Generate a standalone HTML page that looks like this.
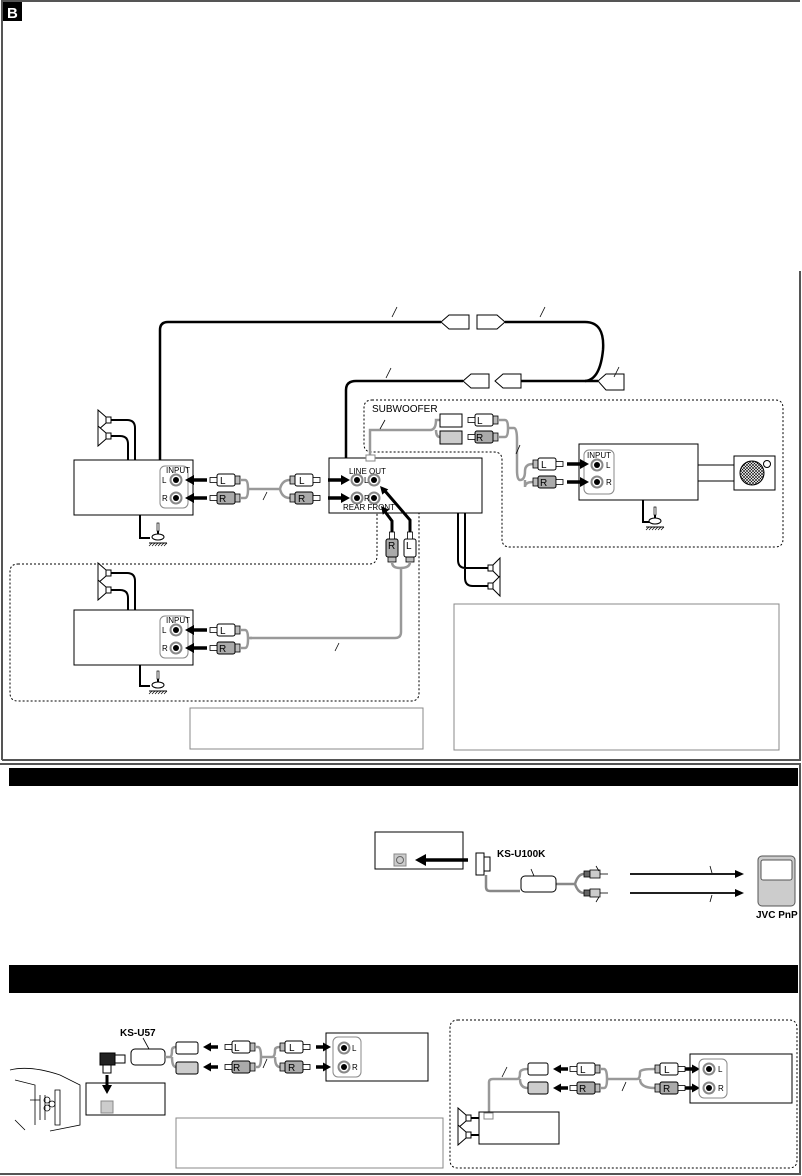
<!DOCTYPE html>
<html><head><meta charset="utf-8"><style>
html,body{margin:0;padding:0;background:#fff;}
svg{display:block;font-family:"Liberation Sans",sans-serif;}
.t{font-size:8px;fill:#000}
.lb{font-size:10px;fill:#000}
</style></head><body>
<svg width="802" height="1176" viewBox="0 0 802 1176" xmlns="http://www.w3.org/2000/svg">
<defs>
<g id="pr">
<rect x="0" y="-4" width="5" height="8" fill="#bbb" stroke="#000" stroke-width="0.8"/>
<rect x="5" y="-6" width="18" height="12" rx="2" stroke="#000" stroke-width="1"/>
<rect x="23" y="-2.5" width="7" height="5" fill="#fff" stroke="#000" stroke-width="0.8"/>
</g>
<g id="pl">
<rect x="-5" y="-4" width="5" height="8" fill="#bbb" stroke="#000" stroke-width="0.8"/>
<rect x="-23" y="-6" width="18" height="12" rx="2" stroke="#000" stroke-width="1"/>
<rect x="-30" y="-2.5" width="7" height="5" fill="#fff" stroke="#000" stroke-width="0.8"/>
</g>
<g id="jack"><circle r="5.5" fill="#fff" stroke="#888" stroke-width="2"/><circle r="3" fill="#000"/></g>
<g id="spkR"><rect x="0" y="-3" width="5" height="6" fill="#fff" stroke="#000"/><path d="M5,-3 L12,-10 L12,10 L5,3 Z" fill="#fff" stroke="#000"/></g>
<g id="spkL"><rect x="0" y="-3" width="5" height="6" fill="#fff" stroke="#000"/><path d="M0,-3 L-8,-10 L-8,10 L0,3 Z" fill="#fff" stroke="#000"/></g>
<g id="gnd"><path d="M0,0 l0,8" stroke="#000" stroke-width="2" fill="none"/><rect x="-1" y="-8" width="2" height="8" fill="#fff" stroke="#000" stroke-width="0.7"/><ellipse cx="0" cy="6" rx="6" ry="3" fill="#fff" stroke="#000"/><path d="M-9,12 h18" stroke="#000"/><path d="M-9,15 l3,-3 M-6,15 l3,-3 M-3,15 l3,-3 M0,15 l3,-3 M3,15 l3,-3 M6,15 l3,-3" stroke="#000" stroke-width="0.7"/></g>
<g id="aR"><path d="M-4,0 H-22" stroke="#000" stroke-width="3.5"/><path d="M0,0 L-9,-5 L-9,5 Z" fill="#000"/></g>
<g id="aS"><path d="M-4,0 H-15" stroke="#000" stroke-width="3.5"/><path d="M0,0 L-8,-4.5 L-8,4.5 Z" fill="#000"/></g>
</defs>

<!-- frames -->
<path d="M2,760 V1 H800" fill="none" stroke="#555" stroke-width="2"/>
<path d="M800,271 V760 H2" fill="none" stroke="#555" stroke-width="2"/>
<rect x="3" y="2" width="19" height="19" fill="#000"/>
<text x="7" y="18" font-size="15" font-weight="bold" fill="#fff">B</text>
<path d="M0,764 H800 V1174 H0" fill="none" stroke="#555" stroke-width="2"/>
<rect x="9" y="768" width="789" height="18" fill="#000"/>
<rect x="9" y="965" width="789" height="28" fill="#000"/>

<!-- long cables -->
<g fill="none" stroke="#000" stroke-width="2.5">
<path d="M160,460 V330 Q160,322 168,322 H441"/>
<path d="M505,322 H585 Q605,322 603,350 Q600,380 585,381"/>
<path d="M346,458 V390 Q346,381 356,381 H463"/>
<path d="M520,381 H598"/>
</g>
<g fill="#fff" stroke="#000" stroke-width="1">
<path d="M441,322 l8,-7 h20 v14 h-20 z"/>
<path d="M505,322 l-8,-7 h-20 v14 h20 z"/>
<path d="M463,381 l8,-7 h18 v14 h-18 z"/>
<path d="M495,381 l8,-7 h18 v14 h-18 z"/>
<path d="M598,381 l8,-7 h18 v16 h-18 z"/>
</g>
<g stroke="#000" stroke-width="0.8"><path d="M392,317 l5,-10 M540,317 l5,-10 M386,378 l5,-10 M614,377 l5,-10"/></g>

<!-- subwoofer dotted region -->
<path d="M372,400 H775 Q783,400 783,408 V539 Q783,547 775,547 H510 Q502,547 502,539 V460 Q502,452 494,452 H372 Q364,452 364,444 V408 Q364,400 372,400 Z" fill="none" stroke="#000" stroke-dasharray="2,2"/>
<text x="372" y="412" class="lb">SUBWOOFER</text>
<path d="M370,458 V430 H430 M430,430 Q436,430 436,420 H440 M436,430 Q436,437 440,437" fill="none" stroke="#999" stroke-width="2.5"/>
<path d="M385,420 l-5,9" stroke="#000" stroke-width="0.8"/>
<rect x="440" y="414" width="22" height="13" fill="#fff" stroke="#000"/>
<rect x="440" y="431" width="22" height="13" fill="#ccc" stroke="#000"/>
<use href="#pl" x="498" y="420" fill="#fff"/>
<use href="#pl" x="498" y="437" fill="#aaa"/>
<text x="477" y="424" class="lb">L</text><text x="476" y="441" class="lb">R</text>
<path d="M498,420 H505 Q508,420 508,428 Q508,437 505,437 H498 M508,428 H514 Q517,428 517,440 V470 Q517,480 520,480" fill="none" stroke="#999" stroke-width="2.5"/>
<path d="M520,445 l-4,9" stroke="#000" stroke-width="0.8"/>
<path d="M520,480 Q525,480 525,471 Q525,464 533,464 M525,480 Q525,482 525,487 Q525,482 533,482" fill="none" stroke="#999" stroke-width="2.5"/>
<use href="#pr" x="533" y="464" fill="#fff"/><use href="#pr" x="533" y="482" fill="#aaa"/>
<text x="541" y="468" class="lb">L</text><text x="540" y="486" class="lb">R</text>
<rect x="579" y="444" width="119" height="56" fill="none" stroke="#000"/>
<rect x="584" y="450" width="30" height="44" rx="5" fill="#fff" stroke="#888"/>
<text x="587" y="458" class="t" font-size="7">INPUT</text>
<use href="#jack" x="597" y="465"/><use href="#jack" x="597" y="482"/>
<text x="606" y="468" class="t">L</text><text x="606" y="485" class="t">R</text>
<use href="#aR" x="589" y="464"/><use href="#aR" x="589" y="482"/>
<path d="M698,465 H734 M698,481 H734" stroke="#000"/>
<rect x="734" y="456" width="41" height="34" fill="#fff" stroke="#000"/>
<pattern id="hx" width="3" height="3" patternUnits="userSpaceOnUse"><path d="M0,0 L3,3 M3,0 L0,3" stroke="#000" stroke-width="0.6"/></pattern>
<circle cx="752" cy="473" r="12" fill="url(#hx)" stroke="#000"/>
<circle cx="767" cy="464" r="3.5" fill="#fff" stroke="#000"/>
<path d="M643,500 V522 H652" fill="none" stroke="#000" stroke-width="2"/>
<use href="#gnd" x="655" y="515"/>

<!-- rear dotted region -->
<path d="M18,564 H369 Q377,564 377,556 V496 Q377,488 385,488 H411 Q419,488 419,496 V693 Q419,701 411,701 H18 Q10,701 10,693 V572 Q10,564 18,564 Z" fill="none" stroke="#000" stroke-dasharray="2,2"/>

<!-- front amp -->
<use href="#spkL" x="106" y="420"/>
<use href="#spkL" x="106" y="436"/>
<path d="M111,420 H127 Q135,420 135,428 V460 M111,436 H120 Q128,436 128,444 V460" fill="none" stroke="#000" stroke-width="2"/>
<rect x="74" y="460" width="119" height="55" fill="#fff" stroke="#000"/>
<rect x="160" y="466" width="28" height="42" rx="5" fill="#fff" stroke="#888"/>
<text x="166" y="473" class="t" font-size="7">INPUT</text>
<use href="#jack" x="176" y="480"/><use href="#jack" x="176" y="498"/>
<text x="162" y="483" class="t" font-size="7">L</text><text x="162" y="501" class="t" font-size="7">R</text>
<use href="#aR" transform="translate(185,480) rotate(180)"/><use href="#aR" transform="translate(185,498) rotate(180)"/>
<use href="#pl" x="240" y="480" fill="#fff"/><use href="#pl" x="240" y="498" fill="#aaa"/>
<text x="220" y="484" class="lb">L</text><text x="219" y="502" class="lb">R</text>
<path d="M240,480 H245 Q248,480 248,489 Q248,498 245,498 H240 M248,489 H280 M280,489 Q282,480 290,480 M280,489 Q282,498 290,498" fill="none" stroke="#999" stroke-width="2.5"/>
<path d="M263,500 l4,-8" stroke="#000" stroke-width="0.8"/>
<use href="#pr" x="290" y="480" fill="#fff"/><use href="#pr" x="290" y="498" fill="#aaa"/>
<text x="299" y="484" class="lb">L</text><text x="298" y="502" class="lb">R</text>
<path d="M140,515 V538 H150" fill="none" stroke="#000" stroke-width="2"/>
<use href="#gnd" x="158" y="531"/>

<!-- center unit -->
<rect x="329" y="458" width="153" height="55" fill="#fff" stroke="#000"/>
<use href="#aR" x="350" y="480"/><use href="#aR" x="350" y="498"/>
<rect x="366" y="455" width="9" height="6" fill="#fff" stroke="#888"/>
<text x="349" y="474" class="t">LINE  OUT</text>
<use href="#jack" x="357" y="480"/><use href="#jack" x="374" y="480"/>
<use href="#jack" x="357" y="498"/><use href="#jack" x="374" y="498"/>
<text x="364" y="483" class="t" font-size="6">L</text><text x="364" y="501" class="t" font-size="6">R</text>
<text x="343" y="510" class="t" font-size="5.5">REAR  FRONT</text>
<path d="M410,532 V520 L385,491 M392,532 V521 L383,509" stroke="#000" stroke-width="3" fill="none"/>
<path d="M380,486 L388.3,489.4 L382.3,494.6 Z M381,506 L389.2,509.8 L382.8,514.8 Z" fill="#000"/>
<use href="#pr" x="392" y="562" transform="rotate(-90 392 562)" fill="#aaa"/>
<use href="#pr" x="410" y="562" transform="rotate(-90 410 562)" fill="#fff"/>
<text x="388" y="549" class="lb">R</text><text x="406" y="549" class="lb">L</text>
<path d="M392,562 Q392,568 400,568 Q410,568 410,562 M401,568 V632 Q401,638 395,638 H250" fill="none" stroke="#999" stroke-width="2.5"/>
<path d="M458,513 V560 Q458,568 466,568 H490 M465,513 V578 Q465,586 473,586 H490" fill="none" stroke="#000" stroke-width="2"/>
<use href="#spkR" x="488" y="568"/><use href="#spkR" x="488" y="586"/>

<!-- rear amp -->
<use href="#spkL" x="106" y="573"/>
<use href="#spkL" x="106" y="590"/>
<path d="M111,573 H127 Q135,573 135,581 V610 M111,590 H120 Q128,590 128,598 V610" fill="none" stroke="#000" stroke-width="2"/>
<rect x="74" y="610" width="119" height="55" fill="#fff" stroke="#000"/>
<rect x="160" y="616" width="28" height="42" rx="5" fill="#fff" stroke="#888"/>
<text x="166" y="623" class="t" font-size="7">INPUT</text>
<use href="#jack" x="176" y="630"/><use href="#jack" x="176" y="648"/>
<text x="162" y="633" class="t" font-size="7">L</text><text x="162" y="651" class="t" font-size="7">R</text>
<use href="#aR" transform="translate(185,630) rotate(180)"/><use href="#aR" transform="translate(185,648) rotate(180)"/>
<use href="#pl" x="240" y="630" fill="#fff"/><use href="#pl" x="240" y="648" fill="#aaa"/>
<text x="220" y="634" class="lb">L</text><text x="219" y="652" class="lb">R</text>
<path d="M240,630 H245 Q248,630 248,639 Q248,648 245,648 H240 M248,638 H252" fill="none" stroke="#999" stroke-width="2.5"/>
<path d="M335,651 l4,-8" stroke="#000" stroke-width="0.8"/>
<path d="M140,665 V686 H150" fill="none" stroke="#000" stroke-width="2"/>
<use href="#gnd" x="158" y="679"/>

<rect x="190" y="708" width="233" height="41" fill="none" stroke="#888"/>
<rect x="454" y="604" width="325" height="146" fill="none" stroke="#888"/>

<!-- section 2 -->
<rect x="375" y="832" width="88" height="37" fill="#fff" stroke="#000"/>
<rect x="394" y="854" width="12" height="12" fill="#ccc" stroke="#888"/><circle cx="400" cy="860" r="3.5" fill="none" stroke="#666"/>
<path d="M468,860 H425" stroke="#000" stroke-width="3.5"/><path d="M415,860 L426,854 L426,866 Z" fill="#000"/>
<rect x="476" y="853" width="8" height="22" fill="#fff" stroke="#000"/>
<rect x="484" y="857" width="6" height="14" fill="#fff" stroke="#000"/>
<text x="497" y="857" font-size="10" font-weight="bold">KS-U100K</text>
<path d="M486,875 V887 Q486,891 490,891 H520 M556,884 H575 M575,884 Q578,874 584,874 M575,884 Q578,893 584,893" fill="none" stroke="#888" stroke-width="2.5"/>
<rect x="521" y="876" width="35" height="16" rx="4" fill="#fff" stroke="#000"/>
<path d="M531,869 l3,7" stroke="#000" stroke-width="0.8"/>
<g stroke="#000" stroke-width="0.8">
<rect x="584" y="871" width="6" height="6" fill="#666"/><rect x="590" y="870" width="10" height="8" fill="#ccc"/><path d="M600,874 H608"/>
<rect x="584" y="890" width="6" height="6" fill="#666"/><rect x="590" y="889" width="10" height="8" fill="#ccc"/><path d="M600,893 H608"/>
<path d="M596,866 l3,5 M596,902 l3,-5 M710,866 l2,7 M710,902 l2,-7"/>
</g>
<path d="M630,874 H736 M630,893 H736" stroke="#000" stroke-width="1.8"/>
<path d="M744,874 L735,870 L735,878 Z M744,893 L735,889 L735,897 Z" fill="#000"/>
<rect x="758" y="856" width="37" height="50" rx="4" fill="#ccc" stroke="#555"/>
<rect x="761" y="860" width="31" height="20" rx="2" fill="#fff" stroke="#555"/>
<text x="756" y="918" font-size="10" font-weight="bold">JVC PnP</text>

<!-- section 3 left -->
<g fill="none" stroke="#000" stroke-width="0.8">
<path d="M10,1070 q20,-5 50,5 l20,10 v40 l-30,6 M15,1080 l20,5 v40 M30,1100 h10 M15,1120 l10,10 M40,1095 v25 M45,1095 v25"/>
<circle cx="47" cy="1100" r="3"/><circle cx="47" cy="1108" r="3"/><circle cx="52" cy="1104" r="3"/>
<path d="M55,1090 v35 h5 v-35 z"/>
</g>
<text x="120" y="1036" font-size="10" font-weight="bold">KS-U57</text>
<path d="M143,1038 l6,11" stroke="#000" stroke-width="0.8"/>
<rect x="100" y="1053" width="15" height="12" fill="#222" stroke="#000"/>
<rect x="103" y="1065" width="8" height="8" fill="#fff" stroke="#000"/>
<rect x="115" y="1055" width="10" height="8" fill="#fff" stroke="#000"/>
<rect x="131" y="1049" width="34" height="16" rx="4" fill="#fff" stroke="#000"/>
<path d="M107,1075 V1086" stroke="#000" stroke-width="3"/><path d="M107,1094 L102,1085 L112,1085 Z" fill="#000"/>
<rect x="86" y="1083" width="79" height="32" fill="none" stroke="#000"/>
<rect x="101" y="1101" width="12" height="12" fill="#ccc" stroke="#888"/>
<path d="M165,1057 H170 Q172,1057 172,1050 Q172,1047 176,1047 M172,1057 Q172,1067 176,1067" fill="none" stroke="#999" stroke-width="2.5"/>
<rect x="176" y="1042" width="22" height="12" rx="2" fill="#fff" stroke="#000"/>
<rect x="176" y="1062" width="22" height="12" rx="2" fill="#ccc" stroke="#000"/>
<use href="#aS" transform="translate(203,1047) rotate(180)"/><use href="#aS" transform="translate(203,1067) rotate(180)"/>
<use href="#pl" x="255" y="1047" fill="#fff"/>
<use href="#pl" x="255" y="1067" fill="#aaa"/>
<text x="234" y="1051" class="lb">L</text><text x="233" y="1071" class="lb">R</text>
<path d="M255,1047 H258 Q261,1047 261,1057 Q261,1067 258,1067 H255 M261,1057 H272 Q275,1057 275,1050 Q275,1047 280,1047 M275,1057 Q275,1067 280,1067" fill="none" stroke="#999" stroke-width="2.5"/>
<path d="M263,1068 l4,-9" stroke="#000" stroke-width="0.8"/>
<use href="#pr" x="280" y="1047" fill="#fff"/><use href="#pr" x="280" y="1067" fill="#aaa"/>
<text x="289" y="1051" class="lb">L</text><text x="288" y="1071" class="lb">R</text>
<use href="#aS" x="331" y="1047"/><use href="#aS" x="331" y="1067"/>
<rect x="326" y="1033" width="102" height="48" fill="none" stroke="#000"/>
<rect x="333" y="1037" width="28" height="40" rx="5" fill="#fff" stroke="#888"/>
<use href="#jack" x="344" y="1048"/><use href="#jack" x="344" y="1067"/>
<text x="352" y="1051" class="t">L</text><text x="352" y="1070" class="t">R</text>
<rect x="176" y="1118" width="267" height="50" fill="none" stroke="#888"/>

<!-- section 3 right -->
<path d="M458,1020 H789 Q797,1020 797,1028 V1160 Q797,1168 789,1168 H458 Q450,1168 450,1160 V1028 Q450,1020 458,1020 Z" fill="none" stroke="#000" stroke-dasharray="2,2"/>
<path d="M489,1113 V1082 Q489,1079 493,1079 H517 Q520,1079 520,1073 Q520,1069 528,1069 M520,1079 Q520,1088 528,1088" fill="none" stroke="#999" stroke-width="2.5"/>
<path d="M502,1077 l5,-10" stroke="#000" stroke-width="0.8"/>
<rect x="528" y="1063" width="20" height="12" rx="2" fill="#fff" stroke="#000"/>
<rect x="528" y="1082" width="20" height="12" rx="2" fill="#ccc" stroke="#000"/>
<use href="#aS" transform="translate(553,1069) rotate(180)"/><use href="#aS" transform="translate(553,1088) rotate(180)"/>
<use href="#pl" x="600" y="1069" fill="#fff"/>
<use href="#pl" x="600" y="1088" fill="#aaa"/>
<text x="580" y="1073" class="lb">L</text><text x="579" y="1092" class="lb">R</text>
<path d="M600,1069 H604 Q607,1069 607,1079 Q607,1088 604,1088 H600 M607,1079 H637 Q640,1079 640,1072 Q640,1069 655,1069 M640,1079 Q640,1088 655,1088" fill="none" stroke="#999" stroke-width="2.5"/>
<path d="M622,1091 l4,-9" stroke="#000" stroke-width="0.8"/>
<use href="#pr" x="655" y="1069" fill="#fff"/><use href="#pr" x="655" y="1088" fill="#aaa"/>
<text x="664" y="1073" class="lb">L</text><text x="663" y="1092" class="lb">R</text>
<use href="#aS" x="700" y="1069"/><use href="#aS" x="700" y="1088"/>
<rect x="690" y="1054" width="102" height="49" fill="none" stroke="#000"/>
<rect x="699" y="1059" width="28" height="39" rx="5" fill="#fff" stroke="#888"/>
<use href="#jack" x="709" y="1069"/><use href="#jack" x="709" y="1088"/>
<text x="718" y="1072" class="t">L</text><text x="718" y="1091" class="t">R</text>
<rect x="479" y="1112" width="80" height="32" fill="#fff" stroke="#000"/>
<rect x="484" y="1113" width="9" height="6" fill="#fff" stroke="#888"/>
<path d="M471,1118 H479 M471,1135 H479" stroke="#000" stroke-width="2"/>
<use href="#spkL" x="466" y="1118"/>
<use href="#spkL" x="466" y="1135"/>
</svg>
</body></html>
